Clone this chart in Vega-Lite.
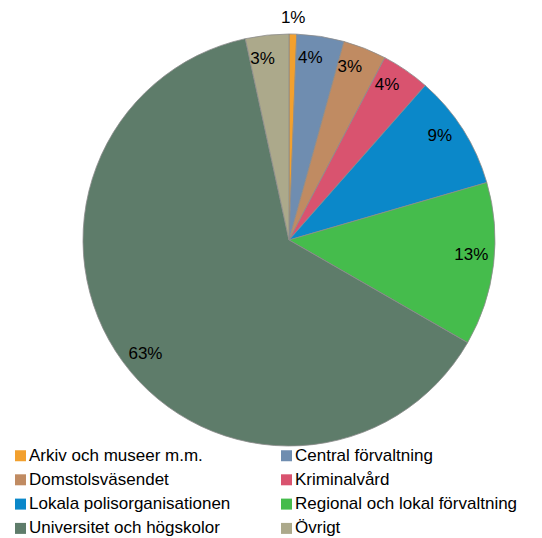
{
  "$schema": "https://vega.github.io/schema/vega-lite/v6.json",
  "width": 506,
  "height": 480,
  "autosize": {"type": "none"},
  "padding": {"left": 36, "top": 0, "right": 0, "bottom": 58},
  "background": "white",
  "config": {"view": {"stroke": null}, "font": "Liberation Sans"},
  "data": {
    "values": [
      {"idx": 1, "category": "Arkiv och museer m.m.", "share": 0.6, "label": "1%"},
      {"idx": 2, "category": "Central förvaltning", "share": 3.7, "label": "4%"},
      {"idx": 3, "category": "Domstolsväsendet", "share": 3.4, "label": "3%"},
      {"idx": 4, "category": "Kriminalvård", "share": 3.8, "label": "4%"},
      {"idx": 5, "category": "Lokala polisorganisationen", "share": 9.0, "label": "9%"},
      {"idx": 6, "category": "Regional och lokal förvaltning", "share": 12.8, "label": "13%"},
      {"idx": 7, "category": "Universitet och högskolor", "share": 63.3, "label": "63%"},
      {"idx": 8, "category": "Övrigt", "share": 3.4, "label": "3%"}
    ]
  },
  "encoding": {
    "theta": {"field": "share", "type": "quantitative", "stack": true},
    "order": {"field": "idx", "type": "quantitative"}
  },
  "layer": [
    {
      "mark": {"type": "arc", "outerRadius": 206, "stroke": "#8c8c8c", "strokeWidth": 0.8},
      "encoding": {
        "color": {
          "field": "category",
          "type": "nominal",
          "sort": {"field": "idx"},
          "scale": {
            "domain": ["Arkiv och museer m.m.", "Central förvaltning", "Domstolsväsendet", "Kriminalvård", "Lokala polisorganisationen", "Regional och lokal förvaltning", "Universitet och högskolor", "Övrigt"],
            "range": ["#F2A02E", "#6F8DB0", "#C08B62", "#D9536F", "#0B88C9", "#45BC4C", "#5E7C6A", "#ACA98B"]
          },
          "legend": {
            "orient": "none",
            "legendX": -24,
            "legendY": 447,
            "direction": "horizontal",
            "columns": 2,
            "title": null,
            "symbolType": "square",
            "symbolSize": 121,
            "symbolStrokeWidth": 0,
            "labelFont": "Liberation Sans",
            "labelFontSize": 17,
            "labelColor": "#000000",
            "labelLimit": 300,
            "labelOffset": 0,
            "rowPadding": 6.3,
            "columnPadding": 47
          }
        }
      }
    },
    {
      "transform": [{"filter": "datum.idx != 1"}],
      "mark": {"type": "text", "radius": 183, "font": "Liberation Sans", "fontSize": 17, "color": "#000000"},
      "encoding": {"text": {"field": "label"}}
    },
    {
      "transform": [{"filter": "datum.idx == 1"}],
      "mark": {"type": "text", "radius": 222, "font": "Liberation Sans", "fontSize": 17, "color": "#000000"},
      "encoding": {"text": {"field": "label"}}
    }
  ]
}
